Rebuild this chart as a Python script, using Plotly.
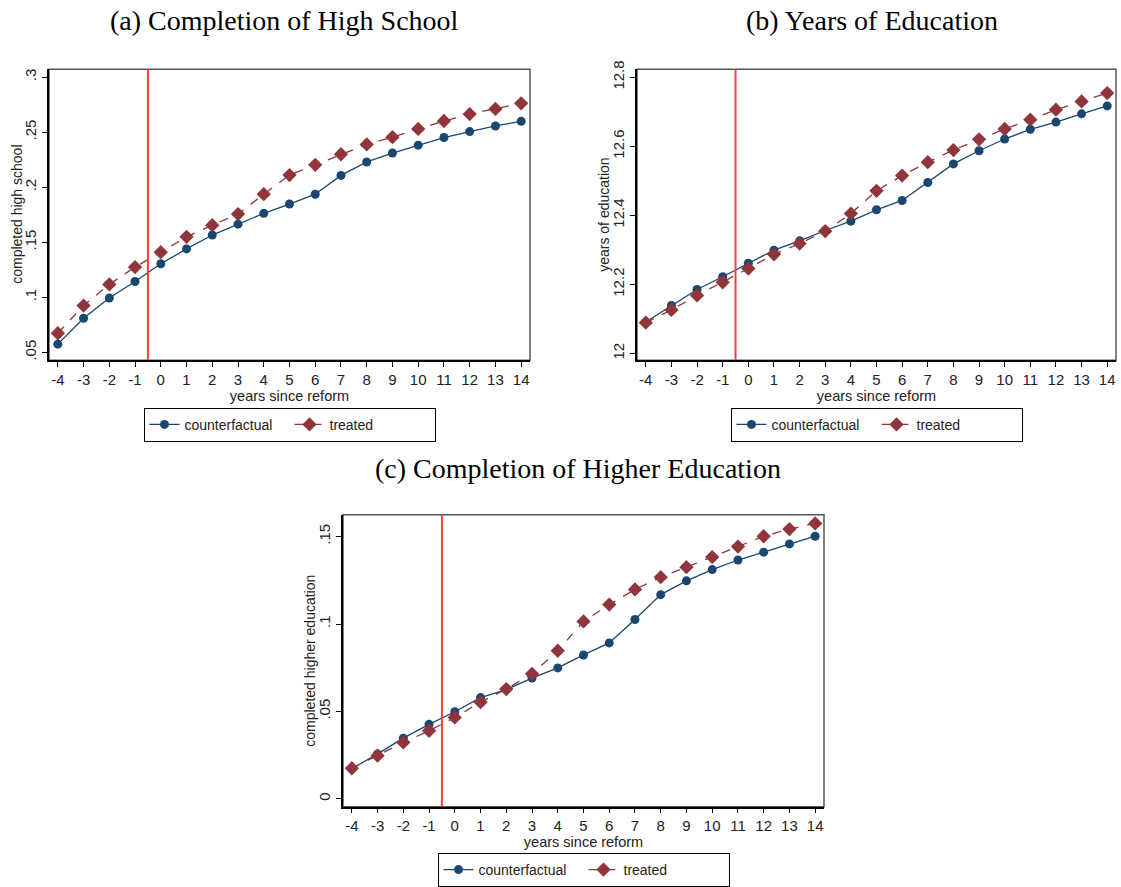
import plotly.graph_objects as go

years = list(range(-4, 15))
year_labels = [str(y) for y in years]

hs_counterfactual = [0.0575, 0.081, 0.0994, 0.1144, 0.1305, 0.144, 0.1566, 0.1665, 0.1763, 0.1847,
                     0.1937, 0.2108, 0.223, 0.2311, 0.2383, 0.2452, 0.2506, 0.2557, 0.2599]
hs_treated = [0.0674, 0.0925, 0.1117, 0.1275, 0.141, 0.155, 0.1656, 0.1757, 0.1937, 0.2111,
              0.2204, 0.23, 0.2389, 0.2455, 0.253, 0.2602, 0.2665, 0.2712, 0.2763]

edu_counterfactual = [12.091, 12.139, 12.185, 12.222, 12.261, 12.299, 12.326, 12.356, 12.383, 12.416,
                      12.443, 12.495, 12.549, 12.587, 12.621, 12.649, 12.670, 12.694, 12.717]
edu_treated = [12.089, 12.126, 12.168, 12.206, 12.246, 12.287, 12.318, 12.354, 12.405, 12.471,
               12.515, 12.554, 12.589, 12.620, 12.650, 12.677, 12.706, 12.730, 12.754]

he_counterfactual = [0.0172, 0.0257, 0.0347, 0.0426, 0.0498, 0.0579, 0.0625, 0.0691, 0.0749, 0.0823,
                     0.0892, 0.1026, 0.1168, 0.1247, 0.1311, 0.1366, 0.1411, 0.1458, 0.1502]
he_treated = [0.0175, 0.0247, 0.0323, 0.0389, 0.0466, 0.0553, 0.0628, 0.0715, 0.0847, 0.1015,
              0.1111, 0.1198, 0.1268, 0.1325, 0.1383, 0.1443, 0.1502, 0.1543, 0.1575]

hs_ticks = [0.05, 0.1, 0.15, 0.2, 0.25, 0.3]
hs_ticktext = [".05", ".1", ".15", ".2", ".25", ".3"]
edu_ticks = [12.0, 12.2, 12.4, 12.6, 12.8]
edu_ticktext = ["12", "12.2", "12.4", "12.6", "12.8"]
he_ticks = [0.0, 0.05, 0.1, 0.15]
he_ticktext = ["0", ".05", ".1", ".15"]

reform_line = -0.5

NAVY = "#1a476f"
MAROON = "#90353b"
SANS = "Liberation Sans, Arial, sans-serif"
SERIF = "Liberation Serif, DejaVu Serif, serif"

W, H = 1121, 887


def px_x(v):
    return v / W


def px_y(v):
    return 1 - v / H


panels = [
    # suffix, plot box x px, plot box y px, y range, y ticks, y title + its x px, data, title + pos, legend top
    ("", (49, 530), (70, 364), [0.0428, 0.3072], hs_ticks, hs_ticktext, "completed high school", 17,
     hs_counterfactual, hs_treated, "(a) Completion of High School", (284, 21), 412),
    ("2", (637, 1116), (70, 364), [11.98, 12.823], edu_ticks, edu_ticktext, "years of education", 604,
     edu_counterfactual, edu_treated, "(b) Years of Education", (872, 21), 412),
    ("3", (343, 824), (520, 815), [-0.0045, 0.1625], he_ticks, he_ticktext, "completed higher education", 310,
     he_counterfactual, he_treated, "(c) Completion of Higher Education", (578, 473), 862),
]

fig = go.Figure()
layout = dict(
    width=W, height=H,
    margin=dict(l=0, r=0, t=0, b=0),
    paper_bgcolor="white", plot_bgcolor="white",
    font=dict(family=SANS, color="#222", size=14),
    shapes=[], annotations=[],
)

for (suffix, xdom, ydom, yrange, yticks, yticktext, ytitle, ytitle_x,
     cf, tr, title, tpos, leg_top) in panels:
    xa, ya = "x" + suffix, "y" + suffix
    legend_name = "legend" + suffix

    fig.add_trace(go.Scatter(
        x=years, y=cf, xaxis=xa, yaxis=ya, name="counterfactual", legend=legend_name,
        mode="lines+markers",
        line=dict(color=NAVY, width=1.3),
        marker=dict(symbol="circle", size=9, color=NAVY),
    ))
    fig.add_trace(go.Scatter(
        x=years, y=tr, xaxis=xa, yaxis=ya, name="treated", legend=legend_name,
        mode="lines+markers",
        line=dict(color=MAROON, width=1.3, dash="dash"),
        marker=dict(symbol="diamond", size=11, color=MAROON),
    ))

    layout["xaxis" + suffix] = dict(
        domain=[px_x(xdom[0]), px_x(xdom[1])], anchor=ya,
        range=[-4.343, 14.343], tickmode="array", tickvals=years, ticktext=year_labels,
        ticks="outside", ticklen=5, tickcolor="black", showgrid=False, zeroline=False,
        showline=True, linecolor="black", linewidth=1.5,
        tickfont=dict(size=15, color="#222"),
        title=dict(text="years since reform", font=dict(size=14.5, color="#222"), standoff=0),
        automargin=False,
    )
    layout["yaxis" + suffix] = dict(
        domain=[px_y(ydom[1]), px_y(ydom[0])], anchor=xa,
        range=yrange, tickmode="array", tickvals=yticks, ticktext=yticktext, tickangle=-90,
        ticks="outside", ticklen=5, tickcolor="black", showgrid=False, zeroline=False,
        showline=True, linecolor="black", linewidth=1.5,
        tickfont=dict(size=15, color="#222"),
        automargin=False,
    )

    # plot region outline (top and right sides)
    layout["shapes"].append(dict(
        type="rect", xref=xa + " domain", yref=ya + " domain", x0=0, x1=1, y0=0, y1=1,
        line=dict(color="#555", width=1.5), layer="below",
    ))
    # reform line
    layout["shapes"].append(dict(
        type="line", xref=xa, yref=ya + " domain", x0=reform_line, x1=reform_line, y0=0, y1=1,
        line=dict(color="#ff3b3b", width=2),
    ))

    layout["annotations"].append(dict(
        text=title, x=px_x(tpos[0]), y=px_y(tpos[1]), xref="paper", yref="paper",
        xanchor="center", yanchor="middle", showarrow=False,
        font=dict(family=SERIF, size=28, color="black"),
    ))
    layout["annotations"].append(dict(
        text=ytitle, textangle=-90, x=px_x(ytitle_x), y=0.5,
        xref="paper", yref=ya + " domain", xanchor="center", yanchor="middle", showarrow=False,
        font=dict(size=14, color="#222"),
    ))

    layout[legend_name] = dict(
        orientation="h", x=px_x((xdom[0] + xdom[1]) / 2), xanchor="center",
        y=px_y(leg_top), yanchor="top",
        bordercolor="black", borderwidth=1, bgcolor="white",
        font=dict(size=14, color="#222"), itemwidth=30, entrywidth=100,
    )

fig.update_layout(**layout)
# drop the page's default body margin so the figure fills the window exactly
fig.write_html(
    "out.html",
    config={"displayModeBar": False},
    post_script="document.body.style.margin='0';document.body.style.overflow='hidden';",
)
